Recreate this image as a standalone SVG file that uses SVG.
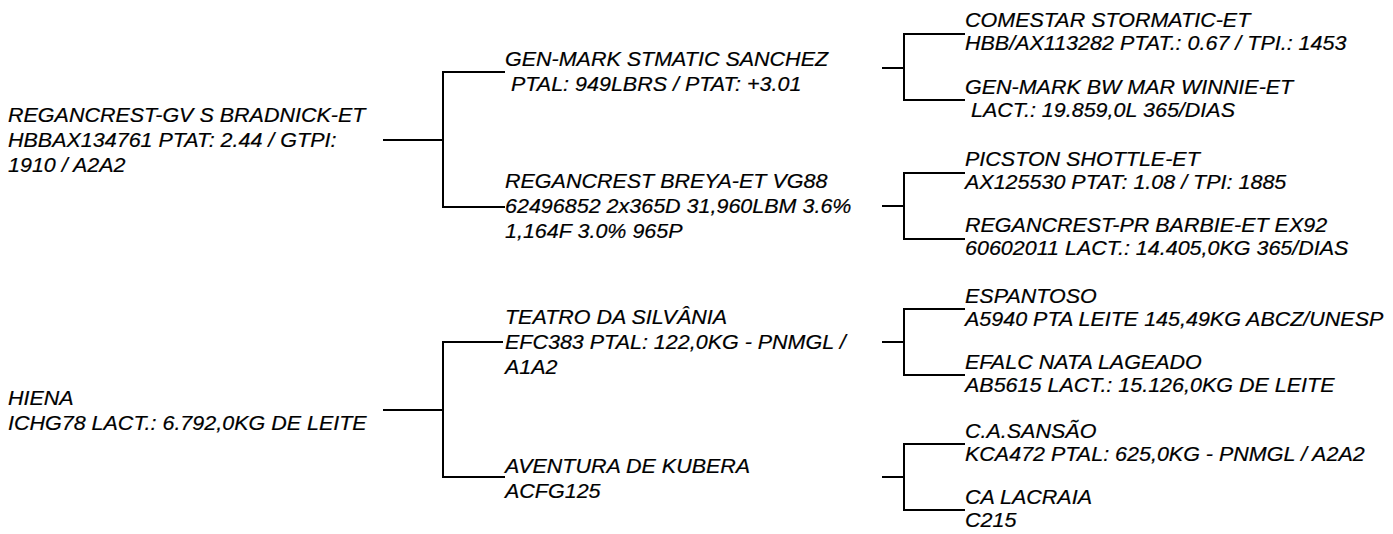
<svg xmlns="http://www.w3.org/2000/svg" width="1393" height="534" viewBox="0 0 1393 534">
<style>
text { font-family: "Liberation Sans", Arial, Helvetica, sans-serif; font-style: italic; font-size: 20px; fill: #000; stroke: #000; stroke-width: 0.2; }
.c path { stroke: #000; stroke-width: 2; fill: none; stroke-linejoin: miter; }
</style>
<rect width="1393" height="534" fill="#fff"/>
<g id="connectors" class="c">
  <path d="M383,140H443"/>
  <path d="M505,72H443V207H505"/>
  <path d="M383,410H443"/>
  <path d="M503,342H443V477H505"/>
  <path d="M882,68H904"/>
  <path d="M965,34H904V100H965"/>
  <path d="M882,206H904"/>
  <path d="M965,173H904V239H965"/>
  <path d="M882,342H904"/>
  <path d="M965,309H904V375H965"/>
  <path d="M882,477H904"/>
  <path d="M965,444H904V510H965"/>
</g>
<g id="root1" transform="translate(8,122) scale(1.075,1)">
  <text x="0" y="0">REGANCREST-GV S BRADNICK-ET</text>
  <text x="0" y="25">HBBAX134761 PTAT: 2.44 / GTPI:</text>
  <text x="0" y="50">1910 / A2A2</text>
</g>
<g id="root2" transform="translate(8,405) scale(1.075,1)">
  <text x="0" y="0">HIENA</text>
  <text x="0" y="25">ICHG78 LACT.: 6.792,0KG DE LEITE</text>
</g>
<g id="sire1" transform="translate(505,66) scale(1.075,1)">
  <text x="0" y="0">GEN-MARK STMATIC SANCHEZ</text>
  <text x="0" y="25" xml:space="preserve"> PTAL: 949LBRS / PTAT: +3.01</text>
</g>
<g id="dam1" transform="translate(505,188) scale(1.075,1)">
  <text x="0" y="0">REGANCREST BREYA-ET VG88</text>
  <text x="0" y="25">62496852 2x365D 31,960LBM 3.6%</text>
  <text x="0" y="50">1,164F 3.0% 965P</text>
</g>
<g id="sire2" transform="translate(505,324) scale(1.075,1)">
  <text x="0" y="0">TEATRO DA SILVÂNIA</text>
  <text x="0" y="25">EFC383 PTAL: 122,0KG - PNMGL /</text>
  <text x="0" y="50">A1A2</text>
</g>
<g id="dam2" transform="translate(505,473) scale(1.075,1)">
  <text x="0" y="0">AVENTURA DE KUBERA</text>
  <text x="0" y="25">ACFG125</text>
</g>
<g id="ss1" transform="translate(965,27) scale(1.075,1)">
  <text x="0" y="0">COMESTAR STORMATIC-ET</text>
  <text x="0" y="23">HBB/AX113282 PTAT.: 0.67 / TPI.: 1453</text>
</g>
<g id="sd1" transform="translate(965,94) scale(1.075,1)">
  <text x="0" y="0">GEN-MARK BW MAR WINNIE-ET</text>
  <text x="0" y="23" xml:space="preserve"> LACT.: 19.859,0L 365/DIAS</text>
</g>
<g id="ds1" transform="translate(965,166) scale(1.075,1)">
  <text x="0" y="0">PICSTON SHOTTLE-ET</text>
  <text x="0" y="23">AX125530 PTAT: 1.08 / TPI: 1885</text>
</g>
<g id="dd1" transform="translate(965,232) scale(1.075,1)">
  <text x="0" y="0">REGANCREST-PR BARBIE-ET EX92</text>
  <text x="0" y="23">60602011 LACT.: 14.405,0KG 365/DIAS</text>
</g>
<g id="ss2" transform="translate(965,303) scale(1.075,1)">
  <text x="0" y="0">ESPANTOSO</text>
  <text x="0" y="23">A5940 PTA LEITE 145,49KG ABCZ/UNESP</text>
</g>
<g id="sd2" transform="translate(965,369) scale(1.075,1)">
  <text x="0" y="0">EFALC NATA LAGEADO</text>
  <text x="0" y="23">AB5615 LACT.: 15.126,0KG DE LEITE</text>
</g>
<g id="ds2" transform="translate(965,438) scale(1.075,1)">
  <text x="0" y="0">C.A.SANSÃO</text>
  <text x="0" y="23">KCA472 PTAL: 625,0KG - PNMGL / A2A2</text>
</g>
<g id="dd2" transform="translate(965,504) scale(1.075,1)">
  <text x="0" y="0">CA LACRAIA</text>
  <text x="0" y="23">C215</text>
</g>
</svg>
